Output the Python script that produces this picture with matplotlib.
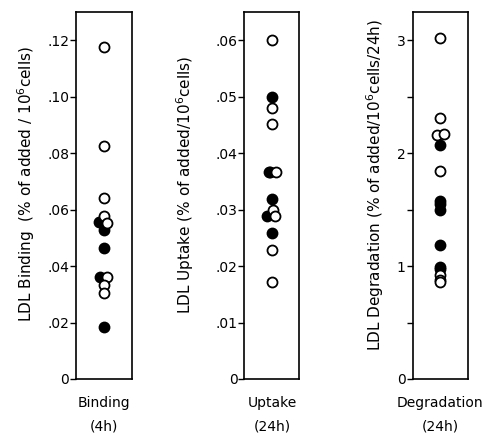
import matplotlib.pyplot as plt
from matplotlib.ticker import FixedLocator

# values (open = o, filled = f)
binding_open = [0.1175, 0.0826, 0.064, 0.0577, 0.0553, 0.036, 0.0333, 0.0303]
binding_open_dx = [0, 0, 0, 0, 0.05, 0.05, 0, -0.01]
binding_filled = [0.0557, 0.0527, 0.0463, 0.036, 0.0185]
binding_filled_dx = [-0.09, 0, 0, -0.07, 0]

uptake_open = [0.060, 0.048, 0.0451, 0.0366, 0.0300, 0.0288, 0.0228, 0.0172]
uptake_open_dx = [0, 0, 0, 0.07, 0.02, 0.06, 0, 0]
uptake_filled = [0.0499, 0.0367, 0.0367, 0.0318, 0.0289, 0.0258]
uptake_filled_dx = [0, -0.06, -0.03, 0, -0.08, 0]

degr_open = [3.02, 2.31, 2.16, 2.17, 1.84, 0.92, 0.88, 0.86]
degr_open_dx = [0, 0, -0.06, 0.06, 0, 0, 0, 0]
degr_filled = [2.07, 1.58, 1.55, 1.50, 1.19, 0.99, 0.97]
degr_filled_dx = [0, 0, 0, 0, 0, 0, -0.01]

panels = [
    dict(pos=[0.153, 0.1445, 0.113, 0.8285], ymax=0.13, major=[0, .02, .04, .06, .08, .10, .12],
         labels=['0', '.02', '.04', '.06', '.08', '.10', '.12'], minor=[], lx=-0.70,
         ylabel='LDL Binding  (% of added / 10$^{6}$cells)', xlabel='Binding\n(4h)',
         o=binding_open, odx=binding_open_dx, f=binding_filled, fdx=binding_filled_dx),
    dict(pos=[0.4916, 0.1445, 0.111, 0.8285], ymax=0.065, major=[0, .01, .02, .03, .04, .05, .06],
         labels=['0', '.01', '.02', '.03', '.04', '.05', '.06'], minor=[], lx=-0.87,
         ylabel='LDL Uptake (% of added/10$^{6}$cells)', xlabel='Uptake\n(24h)',
         o=uptake_open, odx=uptake_open_dx, f=uptake_filled, fdx=uptake_filled_dx),
    dict(pos=[0.830, 0.1445, 0.112, 0.8285], ymax=3.25, major=[0, 1, 2, 3],
         labels=['0', '1', '2', '3'], minor=[0.5, 1.5, 2.5], lx=-0.48,
         ylabel='LDL Degradation (% of added/10$^{6}$cells/24h)', xlabel='Degradation\n(24h)',
         o=degr_open, odx=degr_open_dx, f=degr_filled, fdx=degr_filled_dx),
]

fig = plt.figure(figsize=(4.97, 4.43), dpi=100)
for p in panels:
    ax = fig.add_axes(p['pos'])
    ax.set_xlim(0, 1)
    ax.set_ylim(0, p['ymax'])
    ax.plot([0.5 + d for d in p['fdx']], p['f'], 'o', ms=7.2, mfc='black', mec='black', mew=1.3)
    ax.plot([0.5 + d for d in p['odx']], p['o'], 'o', ms=7.2, mfc='white', mec='black', mew=1.3)
    ax.set_xticks([])
    ax.yaxis.set_major_locator(FixedLocator(p['major']))
    ax.set_yticklabels(p['labels'], fontsize=10)
    if p['minor']:
        ax.yaxis.set_minor_locator(FixedLocator(p['minor']))
    ax.tick_params(axis='y', which='both', direction='out', length=4, width=1, pad=1)
    for s in ax.spines.values():
        s.set_linewidth(1.2)
    ax.set_ylabel(p['ylabel'], fontsize=11)
    ax.yaxis.set_label_coords(p['lx'], 0.53)
    ax.set_xlabel(p['xlabel'], fontsize=10, labelpad=12, linespacing=1.9)

fig.savefig('out.png', dpi=100)
